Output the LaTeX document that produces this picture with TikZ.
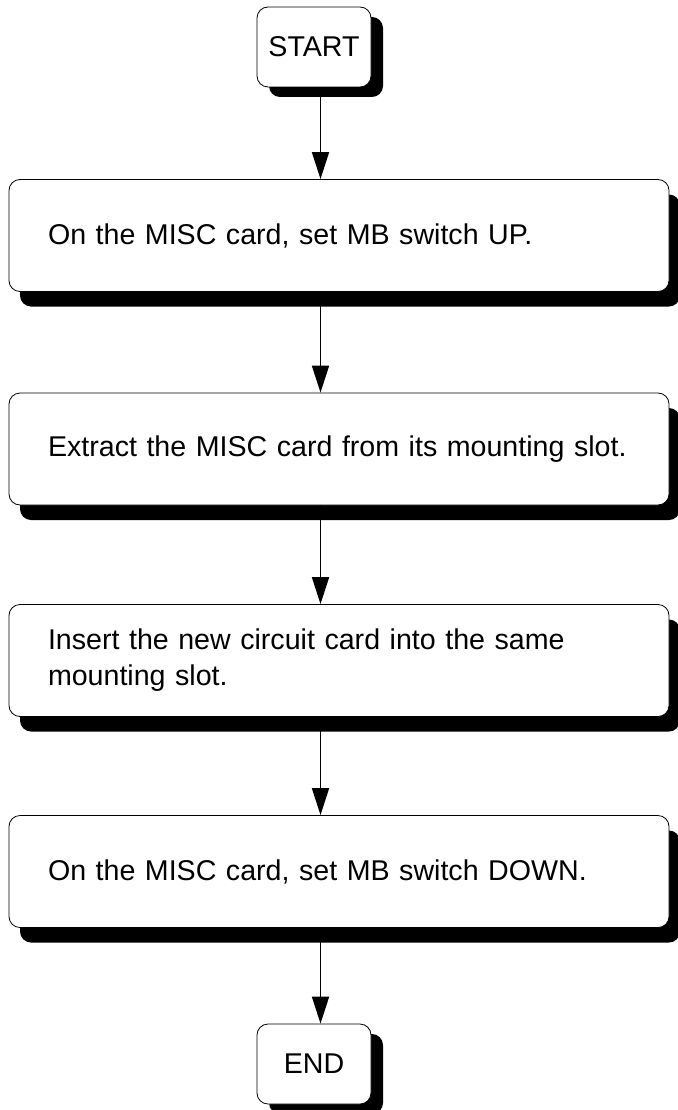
\documentclass[tikz,border=0pt]{standalone}
\usepackage{fontspec}
\setmainfont{Liberation Sans}
\usetikzlibrary{arrows.meta,shadows}

\tikzset{
  termbox/.style={draw=black, line width=0.8pt, fill=white, rounded corners=11pt,
    minimum width=114pt, minimum height=80pt, inner sep=0pt,
    drop shadow={shadow xshift=12pt, shadow yshift=-10pt, fill=black, opacity=1}},
  stepbox/.style={draw=black, line width=0.8pt, fill=white, rounded corners=11pt,
    minimum width=660pt, minimum height=112pt, text width=582pt, inner xsep=39pt,
    align=left,
    drop shadow={shadow xshift=11pt, shadow yshift=-15pt, fill=black, opacity=1}},
  flow/.style={line width=1.8pt, -{Triangle[length=27pt,width=17pt]}}
}

\begin{document}
\begin{tikzpicture}[x=1pt,y=-1pt,font=\fontsize{28.6}{36}\selectfont]
  \useasboundingbox (0,0) rectangle (677,1110);
  \coordinate (axis) at (320.5,0);

  \node[termbox] (start) at (314,47) {START};
  \node[stepbox] (up) at (339,235.5) {On the MISC card, set MB switch UP.};
  \node[stepbox] (extract) at (339,449) {Extract the MISC card from its mounting slot.};
  \node[stepbox] (insert) at (339,660.5) {Insert the new circuit card into the same\\mounting slot.};
  \node[stepbox] (down) at (339,871.5) {On the MISC card, set MB switch DOWN.};
  \node[termbox] (end) at (314,1064) {END};

  % arrows down the flow
  \draw[flow] (start.south -| axis) -- (up.north -| axis);
  \draw[flow] (up.south -| axis) -- (extract.north -| axis);
  \draw[flow] (extract.south -| axis) -- (insert.north -| axis);
  \draw[flow] (insert.south -| axis) -- (down.north -| axis);
  \draw[flow] (down.south -| axis) -- (end.north -| axis);
\end{tikzpicture}
\end{document}
